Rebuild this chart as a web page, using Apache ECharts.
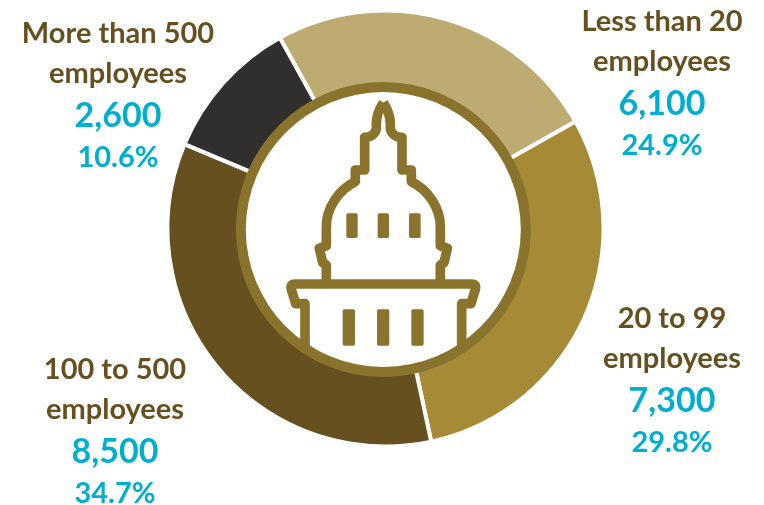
<!DOCTYPE html>
<html><head><meta charset="utf-8">
<style>html,body{margin:0;padding:0;background:#fff}#c{width:764px;height:505px}</style>
<script src="https://cdn.jsdelivr.net/npm/echarts@6/dist/echarts.min.js"></script>
</head><body><div id="c"></div>
<script>
const line1 = ['Less than 20','20 to 99','100 to 500','More than 500'];
const line2 = ['employees','employees','employees','employees'];
const values = [6100,7300,8500,2600];
const shares = ['24.9%','29.8%','34.7%','10.6%'];
const colors = ['#BEAB72','#A68A35','#665020','#312F2E'];
const labelSpots = [[662,84],[672,381],[115,432],[118,96]];
const ink='#665020', blue='#00AECF', ringColor='#8A732C';
const font='Lato, Carlito, Calibri, sans-serif';

const domeHalf = 'M460 68C447 88 439 112 439 132L439 146C437 160 425 171 404 172L404 270L376 270L376 305C325 330 289 385 289 440L289 497L268 505L278 548L289 555L289 612';
const mirror = d => d.replace(/(-?\d+) (-?\d+)/g,(m,x,y)=>(920-(+x))+' '+y);
const dome = domeHalf+' '+mirror(domeHalf)
  +' M225 805L225 671L197 671L184 628Q180 612 195 612L725 612Q740 612 736 628L723 671L695 671L695 805';
const rects = [[349,400,34,74],[443,400,34,74],[537,400,35,74],[338,688,37,109],[441,688,37,109],[544,688,37,109]];
const S=1/3, OX=230, OY=80;

const chart=echarts.init(document.getElementById('c'),null,{renderer:'canvas'});
const txt=(size,color,lh)=>({fontSize:size,fontWeight:'bold',fontFamily:font,color,lineHeight:lh,align:'center'});
chart.setOption({
  animation:false,
  series:[{
    type:'pie',center:[385.5,228.5],radius:[130,218],startAngle:119,clockwise:true,silent:true,z:1,
    data:values.map((v,i)=>({name:line1[i],value:v,itemStyle:{color:colors[i]},
      label:{formatter:`{n|${line1[i]}}\n{n|${line2[i]}}\n{v|${v.toLocaleString('en-US')}}\n{p|${shares[i]}}`}})),
    itemStyle:{borderColor:'#fff',borderWidth:4},
    label:{show:true,position:'outside',align:'center',overflow:'none',
      rich:{n:txt(29,ink,40),v:txt(34,blue,44),p:txt(29,blue,40)}},
    labelLine:{show:false},
    labelLayout:p=>({x:labelSpots[p.dataIndex][0],y:labelSpots[p.dataIndex][1],align:'center',verticalAlign:'middle'})
  },{
    type:'pie',center:[383.3,229.5],radius:[0,147.5],silent:true,z:2,label:{show:false},labelLine:{show:false},
    data:[{value:1,itemStyle:{color:ringColor}}]
  },{
    type:'pie',center:[383.3,229.5],radius:[0,137.5],silent:true,z:3,label:{show:false},labelLine:{show:false},
    data:[{value:1,itemStyle:{color:'#fff'}}]
  },{
    type:'custom',coordinateSystem:'none',z:10,silent:true,data:[0],
    renderItem:()=>({type:'group',x:OX,y:OY,scaleX:S,scaleY:S,children:[
      {type:'path',shape:{pathData:dome},style:{fill:null,stroke:ringColor,lineWidth:29,lineJoin:'round',lineCap:'butt'}},
      ...rects.map(r=>({type:'rect',shape:{x:r[0],y:r[1],width:r[2],height:r[3],r:5},style:{fill:ringColor}}))
    ]})
  }]
});
</script></body></html>
